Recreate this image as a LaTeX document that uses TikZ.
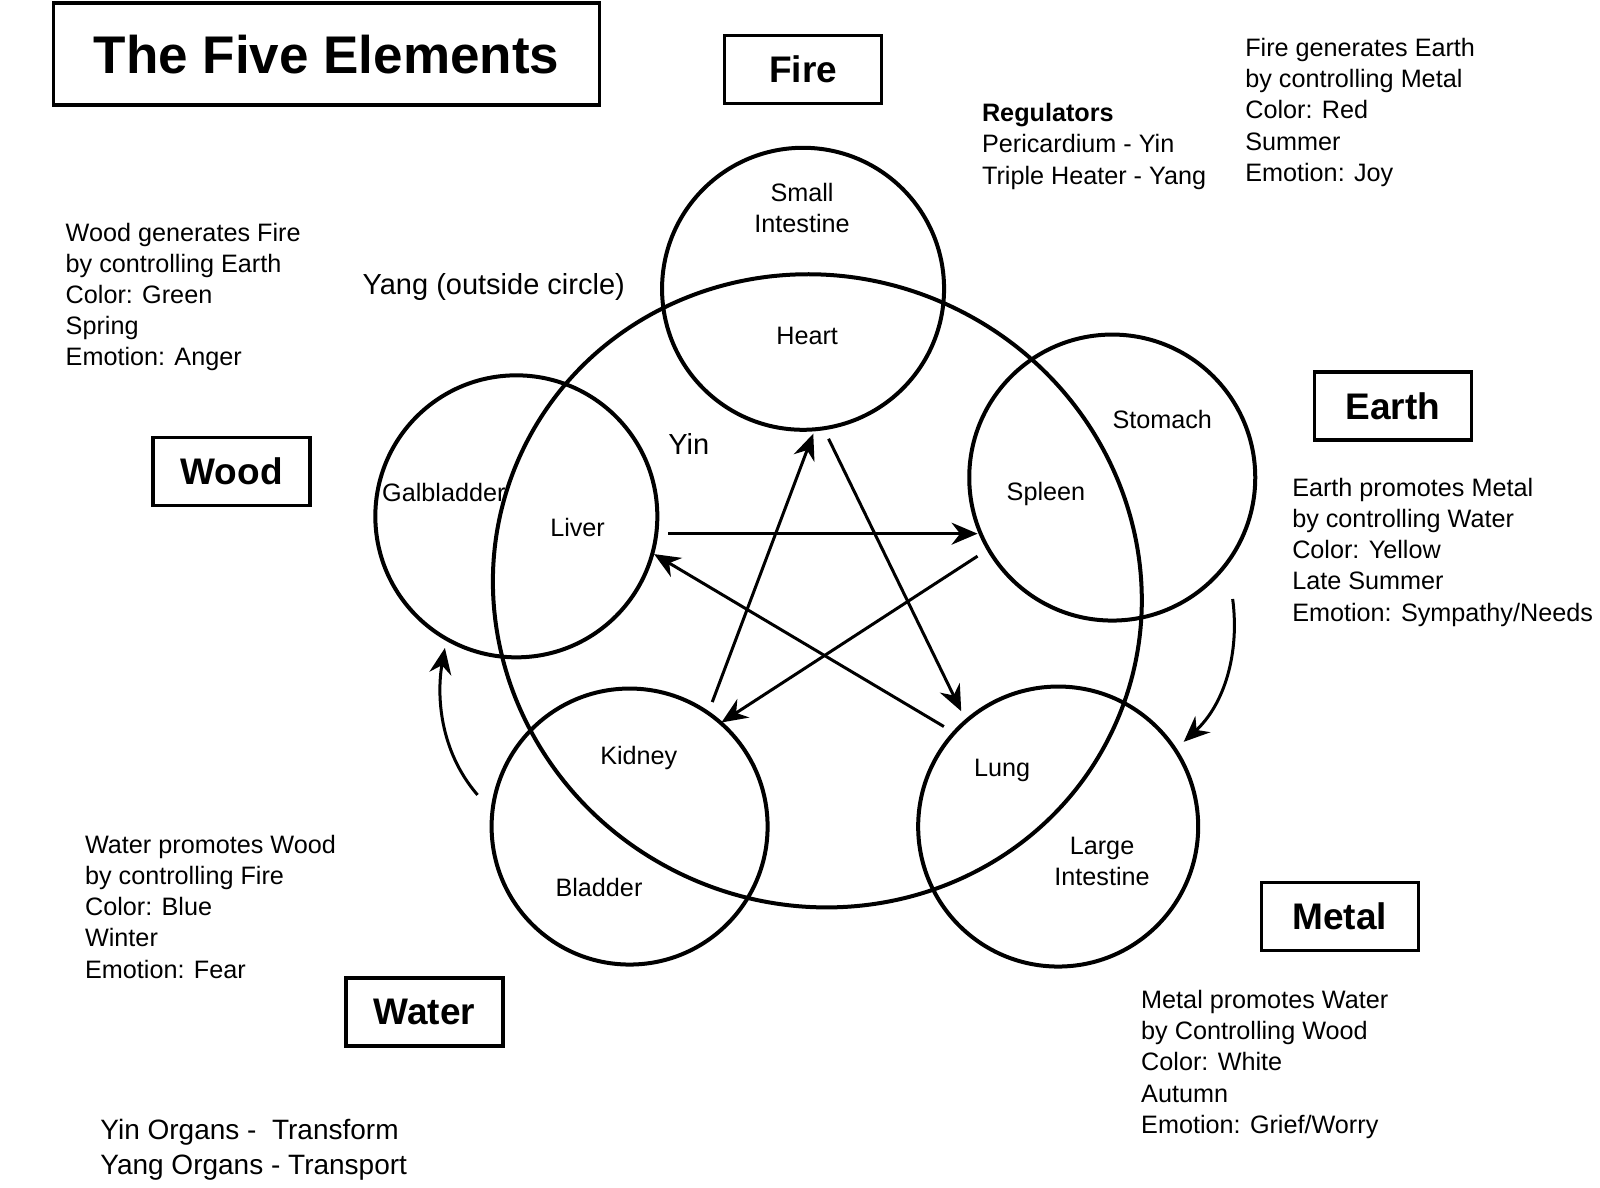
\documentclass[tikz,border=0pt]{standalone}
\usepackage{fontspec}
\setmainfont{Liberation Sans}
\usetikzlibrary{arrows.meta}
\begin{document}
\begin{tikzpicture}[x=0.5102pt,y=-0.5102pt,
  ring/.style={line width=2pt},
  arr/.style={line width=1.5pt,-{Stealth[length=13pt,width=11pt]}},
  box/.style={draw,line width=1.8pt,minimum width=78.5pt,minimum height=34pt,font=\fontsize{18.5}{20}\selectfont\bfseries,inner sep=0pt},
  txt/.style={anchor=north west,align=left,inner sep=0pt,font=\fontsize{12.6}{15.6}\selectfont},
  org/.style={align=center,inner sep=0pt,font=\fontsize{12.6}{15.5}\selectfont}]
\useasboundingbox (0,0) rectangle (1568,1164);
\node[box,minimum width=273pt,minimum height=51pt,font=\fontsize{26.5}{28}\selectfont\bfseries] (title) at (320,53) {The Five Elements};
\node[box] (fire) at (787,68) {Fire};
\node[box] (earth) at (1365,398) {Earth};
\node[box] (wood) at (227,462) {Wood};
\node[box] (water) at (416,992) {Water};
\node[box] (metal) at (1313,898) {Metal};
\draw[ring,rotate around={-25:(801,579)}] (801,579) ellipse (320 and 308);
\node[ring,draw,circle,minimum size=141pt] (cfire) at (787,283) {};
\node[ring,draw,circle,minimum size=143pt] (cearth) at (1090,468) {};
\node[ring,draw,circle,minimum size=141pt] (cwood) at (506,506) {};
\node[ring,draw,circle,minimum size=138pt] (cwater) at (617,810) {};
\node[ring,draw,circle,minimum size=140pt] (cmetal) at (1037,810) {};
\node[org] (si) at (786,204) {Small\\Intestine};
\node[org] (heart) at (791,329) {Heart};
\node[org] (stomach) at (1139,411) {Stomach};
\node[org] (spleen) at (1025,484) {Spleen};
\node[org] (gal) at (435,483) {Galbladder};
\node[org] (liver) at (566,517) {Liver};
\node[org] (kidney) at (626,743) {Kidney};
\node[org] (bladder) at (587,870) {Bladder};
\node[org] (lung) at (982,755) {Lung};
\node[org] (li) at (1080,844) {Large\\Intestine};
\coordinate (a1) at (655,523); \coordinate (a2) at (958,523);
\coordinate (b1) at (958,545); \coordinate (b2) at (707,708);
\coordinate (c1) at (925,712); \coordinate (c2) at (641,543);
\coordinate (d1) at (698,688); \coordinate (d2) at (797,425);
\coordinate (e1) at (812,430); \coordinate (e2) at (942,697);
\coordinate (f1) at (468,779); \coordinate (f2) at (436,635);
\coordinate (g1) at (1208,587); \coordinate (g2) at (1160,727);
\draw[arr] (a1) -- (a2);
\draw[arr] (b1) -- (b2);
\draw[arr] (c1) -- (c2);
\draw[arr] (d1) -- (d2);
\draw[arr] (e1) -- (e2);
\draw[arr] (f1) .. controls (430,735) and (428,680) .. (f2);
\draw[arr] (g1) .. controls (1215,640) and (1200,690) .. (g2);
\node[txt] (t1) at (64,218) {Wood generates Fire\\by controlling Earth\\Color: Green\\Spring\\Emotion: Anger};
\node[txt] (t2) at (1220,37) {Fire generates Earth\\by controlling Metal\\Color: Red\\Summer\\Emotion: Joy};
\node[txt] (t3) at (962,101) {\textbf{Regulators}\\Pericardium - Yin\\Triple Heater - Yang};
\node[txt] (t4) at (1266,468) {Earth promotes Metal\\by controlling Water\\Color: Yellow\\Late Summer\\Emotion: Sympathy/Needs};
\node[txt] (t5) at (83,818) {Water promotes Wood\\by controlling Fire\\Color: Blue\\Winter\\Emotion: Fear};
\node[txt] (t6) at (1118,970) {Metal promotes Water\\by Controlling Wood\\Color: White\\Autumn\\Emotion: Grief/Worry};
\node[txt,font=\fontsize{14}{17.8}\selectfont] (t7) at (98,1096) {Yin Organs -\ \ Transform\\Yang Organs - Transport};
\node[txt,font=\fontsize{14.5}{16}\selectfont] (yang) at (355,268) {Yang (outside circle)};
\node[org,font=\fontsize{14.5}{16}\selectfont] (yin) at (675,435) {Yin};
\end{tikzpicture}
\end{document}
